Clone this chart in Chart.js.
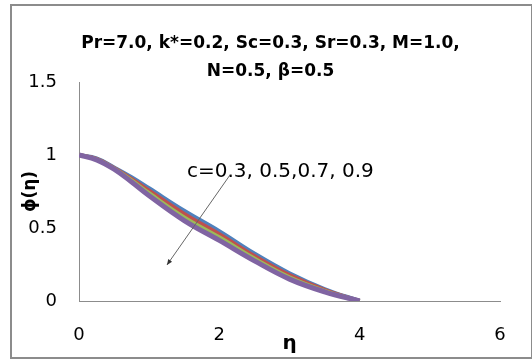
<!DOCTYPE html>
<html>
<head>
<meta charset="utf-8">
<script src="https://cdn.jsdelivr.net/npm/chart.js@4/dist/chart.umd.min.js"></script>
<style>
  html, body { margin: 0; padding: 0; background: #fff; }
  #wrap { position: relative; width: 532px; height: 360px; }
  #frame { position: absolute; left: 10px; top: 4px; width: 519px; height: 351px; border: 2px solid #8c8c8c; pointer-events: none; }
  canvas { position: absolute; left: 0; top: 0; }
</style>
</head>
<body>
<div id="wrap">
  <canvas id="chart" width="532" height="360"></canvas>
  <div id="frame"></div>
</div>
<script>
const titleLines = ["Pr=7.0, k*=0.2, Sc=0.3, Sr=0.3, M=1.0,", "N=0.5, \u03b2=0.5"];
const seriesLabels = ["c=0.3", "c=0.5", "c=0.7", "c=0.9"];
const seriesColors = ["#4f81bd", "#c0504d", "#9bbb59", "#8064a2"];
const etaValues = [0, 0.25, 0.5, 0.75, 1, 1.5, 2, 2.5, 3, 3.5, 4];
const phiC03 = [1.000, 0.976, 0.915, 0.848, 0.772, 0.618, 0.478, 0.325, 0.190, 0.082, 0.000];
const phiC05 = [1.000, 0.973, 0.911, 0.836, 0.755, 0.596, 0.457, 0.308, 0.177, 0.076, 0.000];
const phiC07 = [1.000, 0.970, 0.907, 0.826, 0.738, 0.573, 0.436, 0.291, 0.163, 0.070, 0.000];
const phiC09 = [1.000, 0.967, 0.903, 0.815, 0.721, 0.551, 0.415, 0.275, 0.150, 0.063, 0.000];
const annotationText = "c=0.3, 0.5,0.7, 0.9";

const phiSeries = [phiC03, phiC05, phiC07, phiC09];

const datasets = phiSeries.map((values, i) => ({
  label: seriesLabels[i],
  data: etaValues.map((eta, j) => ({ x: eta, y: values[j] })),
  borderColor: seriesColors[i],
  borderWidth: i === 3 ? 5 : 4,
  pointRadius: 0,
  tension: 0.4,
  order: 3 - i,
}));

// title is centred on the whole frame, not on the plot
const titlePlugin = {
  id: "frameTitle",
  afterDraw(chart) {
    const { ctx } = chart;
    ctx.save();
    ctx.font = "bold 17px 'DejaVu Sans'";
    ctx.fillStyle = "#000";
    ctx.textAlign = "center";
    ctx.textBaseline = "alphabetic";
    ctx.fillText(titleLines[0], 270.5, 48);
    ctx.fillText(titleLines[1], 270.5, 76);
    ctx.restore();
  },
};

// label and arrow pointing the way c grows
const arrowPlugin = {
  id: "arrowNote",
  afterDatasetsDraw(chart) {
    const { ctx, scales: { x, y } } = chart;
    ctx.save();
    ctx.font = "20px 'DejaVu Sans'";
    ctx.fillStyle = "#000";
    ctx.textAlign = "center";
    ctx.textBaseline = "alphabetic";
    ctx.fillText(annotationText, x.getPixelForValue(2.87), y.getPixelForValue(0.85));

    const x1 = x.getPixelForValue(2.152), y1 = y.getPixelForValue(0.863);
    const x2 = x.getPixelForValue(1.254), y2 = y.getPixelForValue(0.247);
    ctx.strokeStyle = "#666";
    ctx.fillStyle = "#333";
    ctx.lineWidth = 1;
    ctx.beginPath();
    ctx.moveTo(x1, y1);
    ctx.lineTo(x2, y2);
    ctx.stroke();
    const ang = Math.atan2(y2 - y1, x2 - x1);
    ctx.beginPath();
    ctx.moveTo(x2, y2);
    ctx.lineTo(x2 - 6 * Math.cos(ang - 0.4), y2 - 6 * Math.sin(ang - 0.4));
    ctx.lineTo(x2 - 6 * Math.cos(ang + 0.4), y2 - 6 * Math.sin(ang + 0.4));
    ctx.closePath();
    ctx.fill();
    ctx.restore();
  },
};

new Chart(document.getElementById("chart"), {
  type: "line",
  data: { datasets },
  plugins: [titlePlugin, arrowPlugin],
  options: {
    responsive: false,
    animation: false,
    layout: { padding: { left: 0, right: 32, top: 82, bottom: 0 } },
    plugins: {
      legend: { display: false },
      tooltip: { enabled: false },
      title: { display: false },
    },
    scales: {
      x: {
        type: "linear",
        min: 0,
        max: 6,
        ticks: { stepSize: 2, padding: 24, color: "#000", font: { family: "'DejaVu Sans'", size: 18 } },
        grid: { display: false, drawTicks: false },
        border: { display: true, color: "#8c8c8c", width: 1 },
        title: {
          display: true,
          text: "\u03b7",
          color: "#000",
          font: { family: "'DejaVu Sans'", size: 20, weight: "bold" },
          padding: { top: 0, bottom: 4 },
        },
        afterFit(scale) { scale.height = 59; },
      },
      y: {
        min: 0,
        max: 1.5,
        ticks: {
          stepSize: 0.5,
          padding: 22,
          color: "#000",
          font: { family: "'DejaVu Sans'", size: 18 },
          callback: (v) => String(v),
        },
        grid: { display: false, drawTicks: false },
        border: { display: true, color: "#8c8c8c", width: 1 },
        title: {
          display: true,
          text: "\u03d5(\u03b7)",
          color: "#000",
          font: { family: "'DejaVu Sans'", size: 17, weight: "bold" },
          padding: { top: 20, bottom: 0 },
        },
        afterFit(scale) { scale.width = 79; },
      },
    },
  },
});
</script>
</body>
</html>
